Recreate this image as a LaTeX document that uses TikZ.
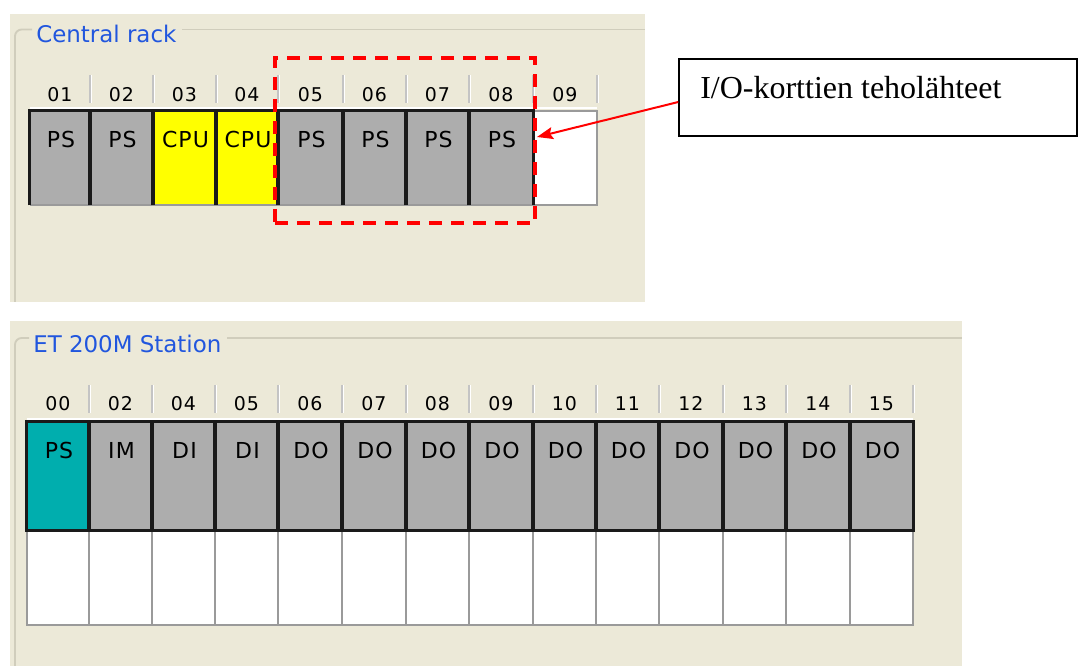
\documentclass[tikz,border=0pt]{standalone}
\usepackage{fontspec}
\setmainfont{Liberation Serif}
\newfontfamily\uifont{DejaVu Sans}
\newfontfamily\uifontw{DejaVu Sans}[LetterSpace=5]
\usetikzlibrary{arrows.meta,fit}
\definecolor{beige}{HTML}{ECE9D8}
\definecolor{grpline}{HTML}{D0CDBC}
\definecolor{modgray}{HTML}{ADADAD}
\definecolor{ttlblue}{HTML}{2156DE}
\definecolor{tealps}{HTML}{00AEAE}
\definecolor{cpuyel}{HTML}{FFFF00}
\definecolor{sepgray}{HTML}{C4C4C4}
\definecolor{cellgray}{HTML}{9A9A9A}
\definecolor{modborder}{HTML}{1A1A1A}
\begin{document}
\begin{tikzpicture}[x=0.75pt,y=-0.75pt,
  grpbox/.style={draw=grpline,line width=1.4pt,rounded corners=5pt},
  moduleb/.style={inner sep=0pt},
  modframe/.style={draw=modborder,line width=1.9pt},
  emptyslot/.style={draw=cellgray,line width=1.5pt,fill=white,inner sep=0pt},
  modtext/.style={font=\uifontw\fontsize{16.5}{18}\selectfont,inner sep=0pt,anchor=base},
  numtext/.style={font=\uifontw\fontsize{14.2}{16}\selectfont,inner sep=0pt,anchor=base},
  ttl/.style={font=\uifont\fontsize{17.2}{20}\selectfont,text=ttlblue,inner sep=0pt,anchor=base west},
  slotsep/.style={draw=sepgray,line width=1.1pt},
  slothl/.style={draw=white,line width=0.9pt},
  dashbox/.style={draw=red,line width=2.3pt,dash pattern=on 10pt off 6.5pt,inner sep=0pt},
  notebox/.style={draw=black,line width=1.2pt,inner sep=0pt},
  notetext/.style={font=\fontsize{24}{27}\selectfont,inner sep=0pt,anchor=base west},
  redarrow/.style={draw=red,line width=1.5pt,-{Stealth[length=12pt,width=9pt,inset=2pt]}}
]
\useasboundingbox (0,0) rectangle (1078,666);
\fill[white] (0,0) rectangle (1078,666);

% ---------- Central rack panel ----------
\fill[beige] (10,14) rectangle (645,302);
\draw[grpbox] (32,29.5) -- (15,29.5) -- (15,302);
\draw[draw=grpline,line width=1.4pt] (182,29.5) -- (645,29.5);
\node[ttl] (crtitle) at (36,42.7) {Central rack};

\draw[white,line width=1.5pt] (30,108.5) -- (597,108.5);
\foreach \a/\b/\n in {30/90/01,90/153/02,153/216/03,216/278/04,278/343/05,343/406/06,406/469/07,469/533/08,533/597/09}{
  \node[numtext] (crh\n) at ({(\a+\b)/2},101.5) {\n};
  \draw[slotsep] (\b,75) -- (\b,103);
  \draw[slothl] (\b+1.4,75) -- (\b+1.4,103);
}
\node[emptyslot,fit={(533,111) (597,205)}] (cr09) {};
\foreach \a/\b/\n/\c in {30/90/01/modgray,90/153/02/modgray,153/216/03/cpuyel,216/278/04/cpuyel,278/343/05/modgray,343/406/06/modgray,406/469/07/modgray,469/533/08/modgray}{
  \node[moduleb,fill=\c,fit={(\a,111) (\b,205)}] (cr\n) {};
}
\draw[cellgray,line width=1.5pt] (30,205) -- (597,205);
\foreach \n/\t in {01/PS,02/PS,03/CPU,04/CPU,05/PS,06/PS,07/PS,08/PS}{
  \draw[modframe] (cr\n.south west) -- (cr\n.north west) -- (cr\n.north east) -- (cr\n.south east);
  \node[modtext] (cr\n t) at ([xshift=0.75pt]cr\n.north |- 0,148) {\t};
}

% dashed group of I/O power supplies
\node[dashbox,fit={(275,58) (535,223)}] (psgroup) {};

% note box and arrow
\node[notebox,fit={(679,59) (1077,136)}] (note) {};
\node[notetext] (notet) at (700,99) {I/O-korttien teholähteet};
\coordinate (tip) at (537,137);
\draw[redarrow] ([yshift=-3.4pt]note.west) -- (tip);

% ---------- ET 200M Station panel ----------
\fill[beige] (10,321) rectangle (962,666);
\draw[grpbox] (29,338) -- (15,338) -- (15,666);
\draw[draw=grpline,line width=1.4pt] (227,338) -- (962,338);
\node[ttl] (ettitle) at (33,352.7) {ET 200M Station};

\draw[white,line width=1.5pt] (27,419.5) -- (913,419.5);
\foreach \a/\b/\n/\c in {27/89/00/tealps,89/152/02/modgray,152/215/04/modgray,215/278/05/modgray,278/342/06/modgray,342/406/07/modgray,406/469/08/modgray,469/533/09/modgray,533/596/10/modgray,596/659/11/modgray,659/723/12/modgray,723/786/13/modgray,786/850/14/modgray,850/913/15/modgray}{
  \node[numtext] (eth\n) at ({(\a+\b)/2},411) {\n};
  \draw[slotsep] (\b,385) -- (\b,413);
  \draw[slothl] (\b+1.4,385) -- (\b+1.4,413);
  \node[emptyslot,fit={(\a,530) (\b,625)}] (et\n w) {};
  \node[moduleb,fill=\c,fit={(\a,422) (\b,530)}] (et\n) {};
}
\foreach \n/\t in {00/PS,02/IM,04/DI,05/DI,06/DO,07/DO,08/DO,09/DO,10/DO,11/DO,12/DO,13/DO,14/DO,15/DO}{
  \draw[modframe] (et\n.north west) rectangle (et\n.south east);
  \node[modtext] (et\n t) at ([xshift=0.75pt]et\n.north |- 0,458) {\t};
}
\end{tikzpicture}
\end{document}
